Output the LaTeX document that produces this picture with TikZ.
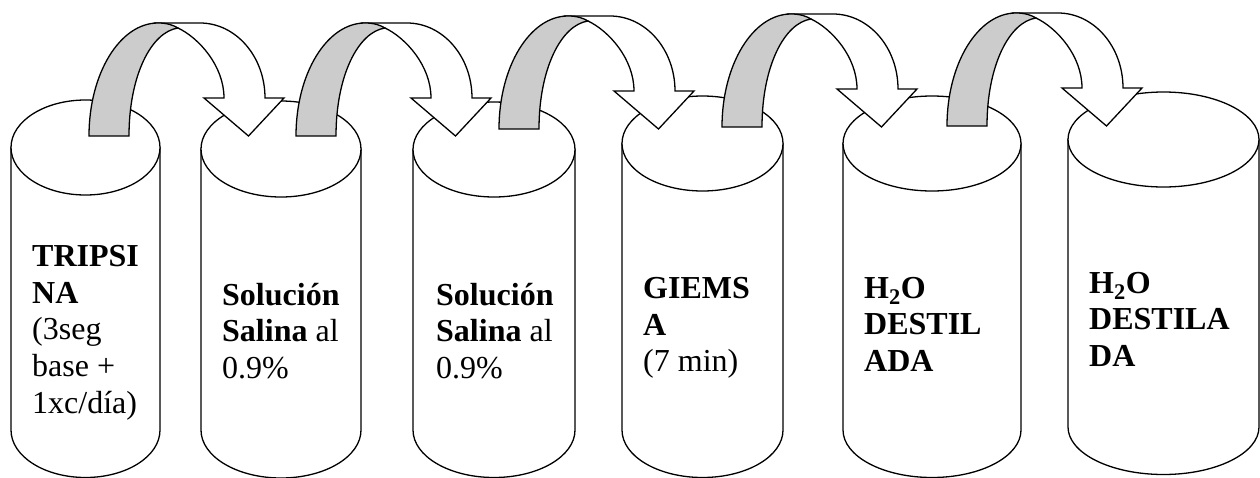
\documentclass[tikz,border=0pt]{standalone}
\usepackage{fontspec}
\setmainfont{Liberation Serif}
\definecolor{ribbon}{RGB}{204,204,204}
\tikzset{
  outline/.style={draw=black, line width=1.3pt, line join=miter},
  cylbody/.style={outline, fill=white},
  lbl/.style={anchor=base west, inner sep=0pt, align=left, font=\fontsize{32}{36.8}\selectfont},
}
% cylinder: cx, rx, top centre y, ry, bottom centre y
\newcommand\cylinderdraw[5]{%
  \draw[cylbody] ({#1-#2},#3) -- ({#1-#2},#5)
     arc[start angle=180, end angle=360, x radius=#2pt, y radius=#4pt]
     -- ({#1+#2},#3) -- cycle;
  \draw[cylbody] (#1,#3) circle[x radius=#2pt, y radius=#4pt];
}
% curved U-turn arrow: left foot x, foot y
\newcommand\uturnarrow[2]{%
  \begin{scope}[shift={(#1,#2)}]
    \draw[outline, fill=white] (69,-113) -- (111,-113)
      .. controls (146.9,-113) and (176,-79.4) .. (176,-38)
      -- (195,-38) -- (159.5,0) -- (115,-38) -- (135,-38)
      .. controls (135,-70) and (110,-98) .. (89,-108) -- cycle;
    \draw[outline, fill=ribbon] (0,0)
      .. controls (0,-62.4) and (30.9,-113) .. (69,-113)
      .. controls (78,-113) and (84,-111) .. (89,-108)
      .. controls (62,-104) and (40,-60) .. (40,0) -- cycle;
  \end{scope}}
\begin{document}
\begin{tikzpicture}[x=1pt,y=-1pt]
\useasboundingbox (0,0) rectangle (1260,477);
\cylinderdraw{85.5}{74.5}{147.5}{47.5}{430}
\cylinderdraw{281}{80}{149}{48}{430}
\cylinderdraw{494}{81}{149.5}{47.5}{430}
\cylinderdraw{702.5}{80.5}{143.5}{47.5}{430}
\cylinderdraw{932}{89}{143.5}{47.5}{430}
\cylinderdraw{1163.5}{95.5}{139.5}{47.5}{427}
\uturnarrow{89}{136}
\uturnarrow{296}{136}
\uturnarrow{499}{129}
\uturnarrow{722}{127}
\uturnarrow{947}{126}
\node[lbl] (t1) at (32,413.5) {\textbf{TRIPSI}\\\textbf{NA}\\(3seg\\base +\\1xc/día)};
\node[lbl] (t2) at (222,378.6) {\textbf{Solución}\\\textbf{Salina} al\\0.9\%};
\node[lbl] (t3) at (436,378.6) {\textbf{Solución}\\\textbf{Salina} al\\0.9\%};
\node[lbl] (t4) at (643,371.9) {\textbf{GIEMS}\\\textbf{A}\\(7 min)};
\node[lbl] (t5) at (864,371.6) {\textbf{H\textsubscript{2}O}\\\textbf{DESTIL}\\\textbf{ADA}};
\node[lbl] (t6) at (1089,366.6) {\textbf{H\textsubscript{2}O}\\\textbf{DESTILA}\\\textbf{DA}};
\end{tikzpicture}
\end{document}
